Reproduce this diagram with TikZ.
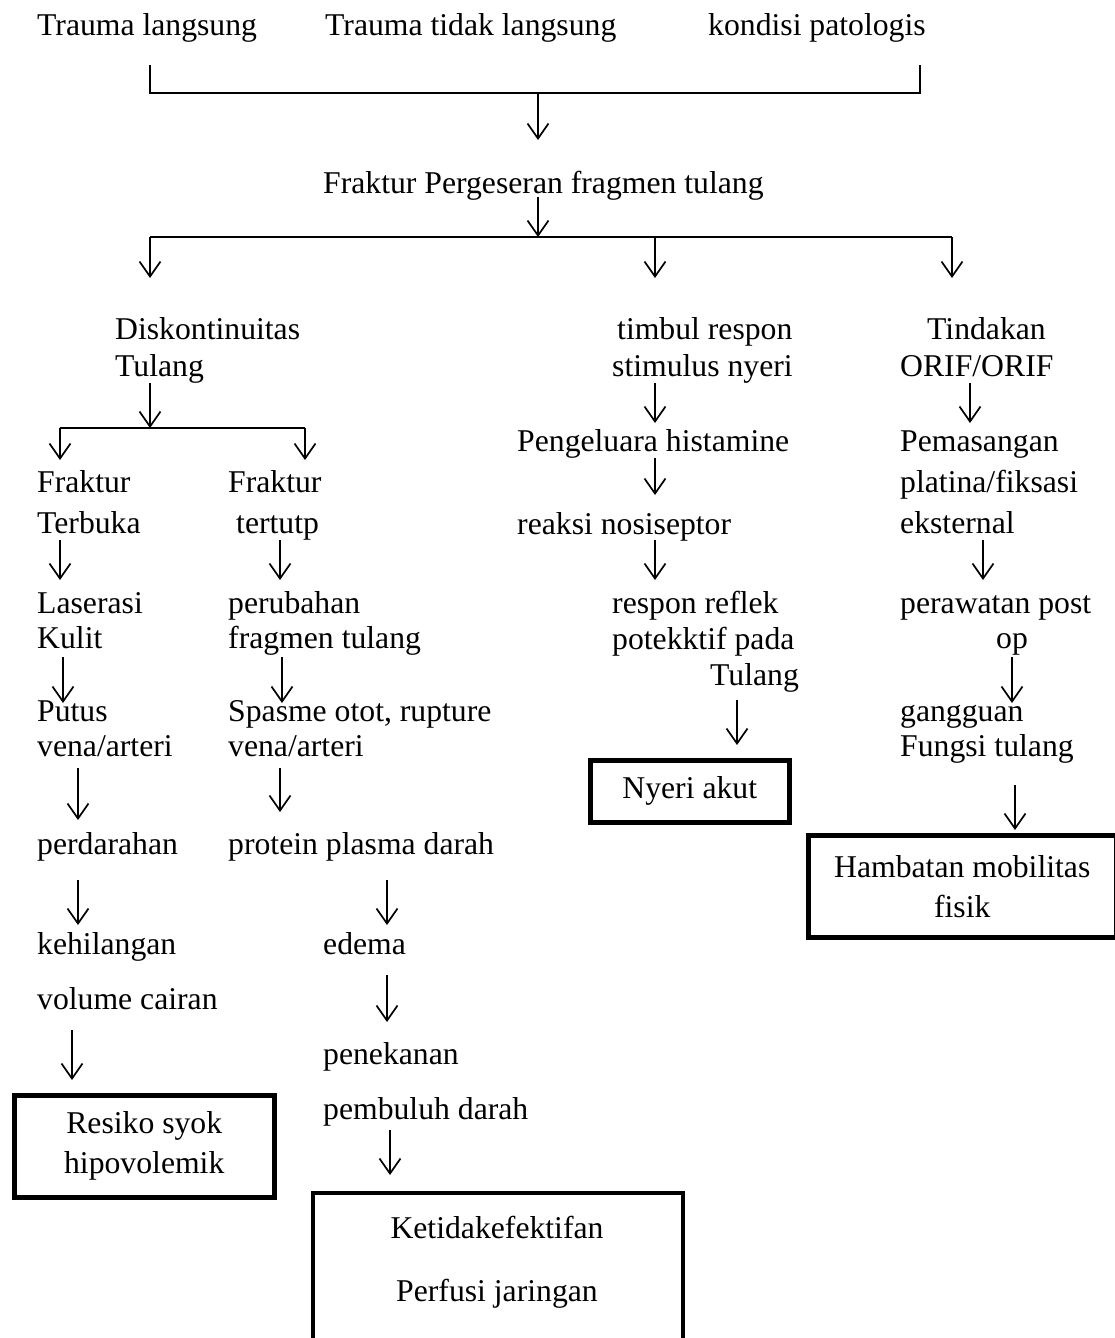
\documentclass[tikz,border=0pt]{standalone}
\usepackage{fontspec}
\setmainfont{Liberation Serif}
\usetikzlibrary{arrows.meta}

\tikzset{
  teks/.style={anchor=base west, inner sep=0pt, align=left},
  panah/.style={-{Straight Barb[length=15pt,width=21pt]}, line width=1.7pt},
  garis/.style={line width=1.7pt},
  kotak/.style={draw, line width=4.5pt, inner sep=0pt, align=center}
}

\begin{document}
\begin{tikzpicture}[x=1pt,y=-1pt,font=\fontsize{31.7}{37}\selectfont]
\useasboundingbox (0,0) rectangle (1115,1338);
% penyebab (base = baris terakhir)
\node[teks] (tl) at (37,36) {Trauma langsung};
\node[teks] (ttl) at (325,36) {Trauma tidak langsung};
\node[teks] (kp) at (708,36) {kondisi patologis};
\node[teks] (fpf) at (323,193) {Fraktur Pergeseran fragmen tulang};
% cabang kiri
\node[teks] (disk) at (115,376) {Diskontinuitas\\Tulang};
\node[teks] (ftb) at (37,533) {Fraktur\\[4pt]Terbuka};
\node[teks] (ftt) at (228,533) {Fraktur\\[4pt]\hspace*{8pt}tertutp};
\node[teks] (lk) at (37,648) {Laserasi\\[-2pt]Kulit};
\node[teks] (pft) at (228,648) {perubahan\\[-2pt]fragmen tulang};
\node[teks] (pva) at (37,756) {Putus\\[-2pt]vena/arteri};
\node[teks] (sor) at (228,756) {Spasme otot, rupture\\[-2pt]vena/arteri};
\node[teks] (perd) at (37,854) {perdarahan};
\node[teks] (ppd) at (228,854) {protein plasma darah};
\node[teks] (kvc) at (37,1009) {kehilangan\\[18pt]volume cairan};
\node[teks] (edm) at (323,954) {edema};
\node[teks] (pnk) at (323,1119) {penekanan\\[18pt]pembuluh darah};
\node[kotak, minimum width=260pt, minimum height=102pt, anchor=north west] (syok) at (12,1093) {Resiko syok\\[3pt]hipovolemik};
\draw[line width=4.5pt] (313,1360) |- (683,1193) -- (683,1360);
\node[teks, anchor=base, align=center] (perf) at (497,1301) {Ketidakefektifan\\[26pt]Perfusi jaringan};
% cabang tengah
\node[teks] (trs) at (612,376) {\hspace*{5pt}timbul respon\\stimulus nyeri};
\node[teks] (ph) at (517,451) {Pengeluara histamine};
\node[teks] (rn) at (517,534) {reaksi nosiseptor};
\node[teks] (rrp) at (612,685) {respon reflek\\[-1pt]potekktif pada\\[-1pt]\hspace*{98pt}Tulang};
\node[kotak, minimum width=199pt, minimum height=62pt, anchor=north west] (nyeri) at (588,758) {Nyeri akut};
% cabang kanan
\node[teks] (tor) at (900,376) {\hspace*{27pt}Tindakan\\ORIF/ORIF};
\node[teks] (pem) at (900,533) {Pemasangan\\[4pt]platina/fiksasi\\[4pt]eksternal};
\node[teks] (pp) at (900,648) {perawatan post\\[-2pt]\hspace*{96pt}op};
\node[teks] (gft) at (900,756) {gangguan\\[-2pt]Fungsi tulang};
\node[kotak, minimum width=308pt, minimum height=102pt, anchor=north west] (ham) at (806,833) {Hambatan mobilitas\\[3pt]fisik};
% garis
\coordinate (b1) at (150,65);
\coordinate (b2) at (150,93);
\coordinate (b3) at (920,93);
\coordinate (b4) at (920,65);
\coordinate (h1) at (150,237);
\coordinate (h2) at (952,237);
\coordinate (d1) at (60,428);
\coordinate (d2) at (305,428);
\draw[garis] (b1) -- (b2) -- (b3) -- (b4);
\draw[garis] (h1) -- (h2);
\draw[garis] (d1) -- (d2);
% panah
\draw[panah] (538,93) -- (538,140);
\draw[panah] (538,197) -- (538,237);
\draw[panah] (h1) -- (150,278);
\draw[panah] (655,237) -- (655,278);
\draw[panah] (h2) -- (952,278);
\draw[panah] (150,383) -- (150,428);
\draw[panah] (d1) -- (60,460);
\draw[panah] (d2) -- (305,460);
\draw[panah] (60,540) -- (60,580);
\draw[panah] (280,540) -- (280,580);
\draw[panah] (63,657) -- (63,703);
\draw[panah] (282,657) -- (282,703);
\draw[panah] (78,768) -- (78,820);
\draw[panah] (280,768) -- (280,812);
\draw[panah] (78,880) -- (78,925);
\draw[panah] (387,880) -- (387,925);
\draw[panah] (387,975) -- (387,1022);
\draw[panah] (72,1030) -- (72,1080);
\draw[panah] (390,1130) -- (390,1175);
\draw[panah] (655,383) -- (655,423);
\draw[panah] (655,458) -- (655,495);
\draw[panah] (655,540) -- (655,580);
\draw[panah] (737,700) -- (737,745);
\draw[panah] (970,383) -- (970,423);
\draw[panah] (983,540) -- (983,580);
\draw[panah] (1012,657) -- (1012,703);
\draw[panah] (1015,785) -- (1015,830);
\end{tikzpicture}
\end{document}
